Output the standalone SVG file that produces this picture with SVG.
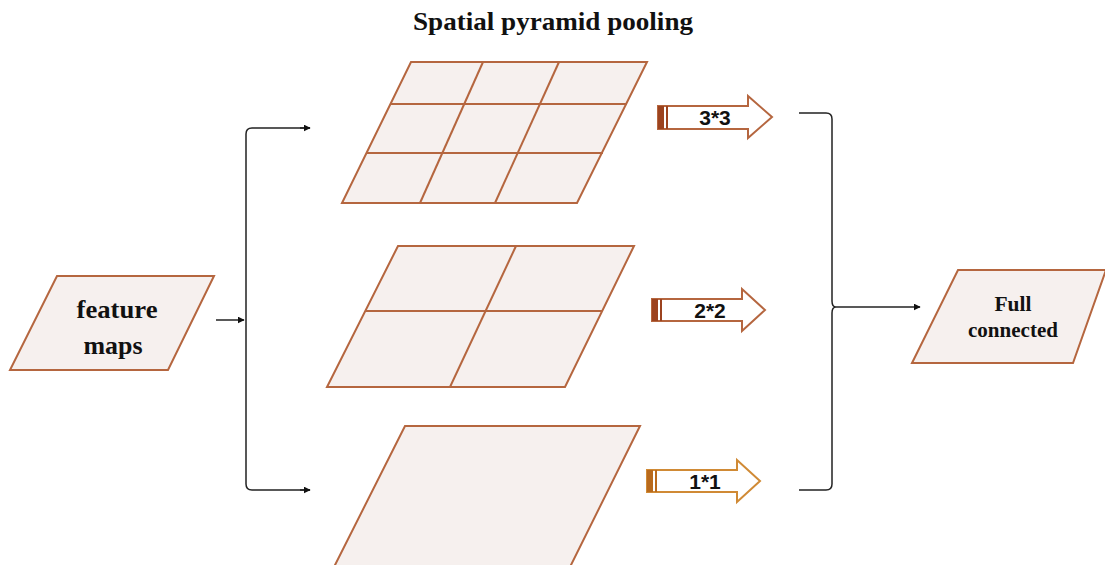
<svg xmlns="http://www.w3.org/2000/svg" width="1105" height="565" viewBox="0 0 1105 565">
<style>
.sh{fill:#f6f0ee;stroke:#b5663f;stroke-width:2;stroke-linejoin:miter}
.gl{fill:none;stroke:#b5663f;stroke-width:2}
.cn{fill:none;stroke:#222;stroke-width:1.5}
.t{font-family:"Liberation Serif",serif;font-weight:bold;fill:#111;text-anchor:middle}
.a{font-family:"Liberation Sans",sans-serif;font-weight:bold;font-size:21px;fill:#111;text-anchor:middle}
.ar{fill:#fff;stroke:#b5663f;stroke-width:2}
.ar1{fill:#fff;stroke:#d08a35;stroke-width:2}
</style>
<defs>
<marker id="ah" viewBox="0 0 10 10" refX="9" refY="5" markerWidth="7" markerHeight="7" markerUnits="userSpaceOnUse" orient="auto"><path d="M0,0 L10,5 L0,10 z" fill="#111"/></marker>
</defs>
<rect width="1105" height="565" fill="#fff"/>
<text class="t" x="553" y="30" font-size="25" textLength="280" lengthAdjust="spacingAndGlyphs">Spatial pyramid pooling</text>

<g id="feature-maps">
<polygon class="sh" points="57,276 214,276 168,370 10,370"/>
<text class="t" x="117" y="318" font-size="25" textLength="81" lengthAdjust="spacingAndGlyphs">feature</text>
<text class="t" x="113" y="354" font-size="25" textLength="59" lengthAdjust="spacingAndGlyphs">maps</text>
</g>

<g id="grid-3x3">
<polygon class="sh" points="411,62 647,62 577,203 342,203"/>
<line class="gl" x1="391" y1="104" x2="627" y2="104"/>
<line class="gl" x1="367" y1="153" x2="603" y2="153"/>
<line class="gl" x1="483" y1="62" x2="420" y2="203"/>
<line class="gl" x1="559" y1="62" x2="495" y2="203"/>
</g>

<g id="grid-2x2">
<polygon class="sh" points="398,246 634,246 565,387 327,387"/>
<line class="gl" x1="366" y1="311" x2="602" y2="311"/>
<line class="gl" x1="516" y1="246" x2="450" y2="387"/>
</g>

<g id="grid-1x1">
<polygon class="sh" points="405,426 640,426 570,567 334,567"/>
</g>

<g id="arrow-3x3">
<polygon class="ar" points="658,106 748,106 748,96 772,117 748,138 748,129 658,129"/>
<rect x="658" y="106" width="6" height="23" fill="#9c431f"/>
<rect x="666" y="106" width="2" height="23" fill="#9c431f"/>
<text class="a" x="715" y="125">3*3</text>
</g>

<g id="arrow-2x2">
<polygon class="ar" points="652,299 742,299 742,289 765,310 742,331 742,321 652,321"/>
<rect x="652" y="299" width="6" height="22" fill="#9c431f"/>
<rect x="660" y="299" width="2" height="22" fill="#9c431f"/>
<text class="a" x="710" y="318">2*2</text>
</g>

<g id="arrow-1x1">
<polygon class="ar1" points="647,470 737,470 737,460 760,481 737,502 737,492 647,492"/>
<rect x="647" y="470" width="6" height="22" fill="#b96a1c"/>
<rect x="655" y="470" width="2" height="22" fill="#b96a1c"/>
<text class="a" x="705" y="489">1*1</text>
</g>

<g id="full-connected">
<polygon class="sh" points="958,270 1106,270 1073,363 912,363"/>
<text class="t" x="1013" y="311" font-size="20" textLength="37" lengthAdjust="spacingAndGlyphs">Full</text>
<text class="t" x="1013" y="337" font-size="20" textLength="90" lengthAdjust="spacingAndGlyphs">connected</text>
</g>

<g id="connectors">
<line class="cn" x1="216" y1="320" x2="244" y2="320" marker-end="url(#ah)"/>
<path class="cn" d="M310,128 H252 Q246,128 246,134 V484 Q246,490 252,490 H310" />
<line class="cn" x1="300" y1="128" x2="310" y2="128" marker-end="url(#ah)"/>
<line class="cn" x1="300" y1="490" x2="310" y2="490" marker-end="url(#ah)"/>
<path class="cn" d="M799,113 H826 Q832,113 832,119 V301 Q832,307 836,307 Q832,307 832,313 V484 Q832,490 826,490 H799"/>
<line class="cn" x1="836" y1="307" x2="920" y2="307" marker-end="url(#ah)"/>
</g>
</svg>
